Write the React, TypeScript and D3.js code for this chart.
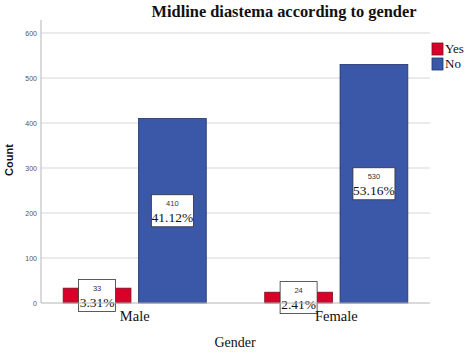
import React from "react";
import * as d3 from "d3";

const genders = ["Male", "Female"];
const answers = ["Yes", "No"];
const yesCounts = [33, 24];
const noCounts = [410, 530];
const yesPct = ["3.31%", "2.41%"];
const noPct = ["41.12%", "53.16%"];
const yTicks = [0, 100, 200, 300, 400, 500, 600];
const colors: Record<string, string> = { Yes: "#d8002a", No: "#3b57a7" };
const strokes: Record<string, string> = { Yes: "#7a1020", No: "#22346a" };

export default function App() {
  const W = 472, H = 357;
  const left = 41, right = 430, top = 20, bottom = 303;
  const y = d3.scaleLinear().domain([0, 600]).range([bottom, 33]);
  const x0 = d3.scaleBand<string>().domain(genders).range([left, right]).paddingInner(0.29).paddingOuter(0.11);
  const x1 = d3.scaleBand<string>().domain(answers).range([0, x0.bandwidth()]).paddingInner(0.1);

  const bars: { g: string; a: string; v: number; pct: string }[] = [];
  genders.forEach((g, i) => {
    bars.push({ g, a: "Yes", v: yesCounts[i], pct: yesPct[i] });
    bars.push({ g, a: "No", v: noCounts[i], pct: noPct[i] });
  });

  return (
    <svg width={W} height={H} style={{ position: "absolute", left: 0, top: 0, background: "#fff" }}>
      <rect x={0} y={0} width={W} height={H} fill="#fff" />
      {yTicks.map((t) => (
        <g key={t}>
          {t > 0 && <line x1={left} x2={right} y1={y(t)} y2={y(t)} stroke="#d6d6d6" strokeWidth={1} />}
          <text x={37} y={y(t) + 2.5} textAnchor="end" fontFamily="Arial, Liberation Sans, sans-serif" fontSize={7} fill="#555">{t}</text>
        </g>
      ))}
      <line x1={left} x2={left} y1={top} y2={bottom} stroke="#b5b5b5" strokeWidth={1} />
      {bars.map((b, i) => {
        const bx = (x0(b.g) as number) + (x1(b.a) as number);
        const bw = x1.bandwidth();
        const by = y(b.v);
        const cx = bx + bw / 2;
        const cy = (by + y(0)) / 2;
        const boxW = b.pct.length > 5 ? 42 : 37;
        return (
          <g key={i}>
            <rect x={bx} y={by} width={bw} height={y(0) - by} fill={colors[b.a]} stroke={strokes[b.a]} strokeWidth={0.8} />
            <rect x={cx - boxW / 2} y={cy - 16} width={boxW} height={32} fill="#fff" stroke="#333" strokeWidth={0.8} />
            <text x={cx} y={cy - 5} textAnchor="middle" fontFamily="Arial, Liberation Sans, sans-serif" fontSize={7.5} fill="#333">{b.v}</text>
            <text x={cx} y={cy + 11} textAnchor="middle" fontFamily="Liberation Serif, Times New Roman, serif" fontSize={13.5} fill="#111">{b.pct}</text>
          </g>
        );
      })}
      <line x1={left} x2={right} y1={bottom} y2={bottom} stroke="#b5b5b5" strokeWidth={1} />
      {genders.map((g) => (
        <text key={g} x={(x0(g) as number) + x0.bandwidth() / 2} y={321} textAnchor="middle" fontFamily="Liberation Serif, Times New Roman, serif" fontSize={14.5} fill="#111">{g}</text>
      ))}
      <text x={235} y={347} textAnchor="middle" fontFamily="Liberation Serif, Times New Roman, serif" fontSize={14} fill="#111">Gender</text>
      <text transform={`translate(13,160) rotate(-90)`} textAnchor="middle" fontFamily="Arial, Liberation Sans, sans-serif" fontWeight="bold" fontSize={11} fill="#111">Count</text>
      <text x={284} y={17} textAnchor="middle" fontFamily="Liberation Serif, Times New Roman, serif" fontWeight="bold" fontSize={16.4} fill="#111">Midline diastema according to gender</text>
      {answers.map((a, i) => (
        <g key={a}>
          <rect x={432} y={43 + i * 15} width={11} height={12} fill={colors[a]} stroke={strokes[a]} strokeWidth={0.8} />
          <text x={445} y={53 + i * 15} fontFamily="Liberation Serif, Times New Roman, serif" fontSize={13} fill="#111">{a}</text>
        </g>
      ))}
    </svg>
  );
}
